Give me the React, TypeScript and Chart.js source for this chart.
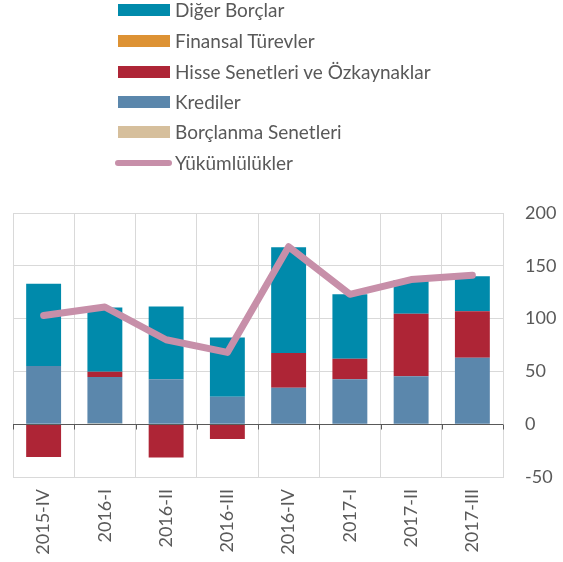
import React, { useEffect, useRef } from "react";
import { Chart, registerables } from "chart.js";

Chart.register(...registerables);

const categories = ["2015-IV", "2016-I", "2016-II", "2016-III", "2016-IV", "2017-I", "2017-II", "2017-III"];
const digerBorclar = [78, 61, 69, 56, 100, 61, 32, 33];
const finansalTurevler = [0, 0, 0, 0, 0, 0, 0, 0];
const hisseSenetleri = [-31, 5, -31.5, -14, 33, 19.5, 59, 44];
const krediler = [55, 44, 42.5, 26, 34.5, 42.5, 45.5, 63];
const borclanmaSenetleri = [0, 0.6, 0, 0, 0, 0, 0, 0];
const yukumlulukler = [103, 111, 80, 68, 168, 123, 137, 141];
const yTicks = [200, 150, 100, 50, 0, -50];

const C_DIGER = "#008aab";
const C_FIN = "#dd9234";
const C_HISSE = "#ae2536";
const C_KRED = "#5b87ac";
const C_BORC = "#d6bf9c";
const C_LINE = "#c78fa9";

const legendItems = [
  { label: "Diğer Borçlar", color: C_DIGER, line: false },
  { label: "Finansal Türevler", color: C_FIN, line: false },
  { label: "Hisse Senetleri ve Özkaynaklar", color: C_HISSE, line: false },
  { label: "Krediler", color: C_KRED, line: false },
  { label: "Borçlanma Senetleri", color: C_BORC, line: false },
  { label: "Yükümlülükler", color: C_LINE, line: true },
];

const FONT = "Lato, 'Open Sans', sans-serif";

const zeroLinePlugin = {
  id: "zeroLine",
  afterDatasetsDraw(chart: any) {
    const { ctx, scales } = chart;
    const x = scales.x;
    const y = scales.y;
    const y0 = Math.round(y.getPixelForValue(0)) + 0.5;
    ctx.save();
    ctx.strokeStyle = "#595959";
    ctx.lineWidth = 1;
    ctx.beginPath();
    ctx.moveTo(chart.chartArea.left, y0);
    ctx.lineTo(chart.chartArea.right, y0);
    const n = categories.length;
    const w = (chart.chartArea.right - chart.chartArea.left) / n;
    for (let i = 0; i <= n; i++) {
      const px = Math.round(x.getPixelForValue(0) - w / 2 + i * w) + 0.5;
      ctx.moveTo(px, y0);
      ctx.lineTo(px, y0 + 5);
    }
    ctx.stroke();
    ctx.restore();
  },
};

export default function App() {
  const ref = useRef<HTMLCanvasElement | null>(null);

  useEffect(() => {
    if (!ref.current) return;
    const barCommon = {
      type: "bar" as const,
      stack: "s",
      barPercentage: 0.57,
      categoryPercentage: 1,
      borderWidth: 0,
      order: 1,
    };
    const chart = new Chart(ref.current, {
      type: "bar",
      data: {
        labels: categories,
        datasets: [
          {
            type: "line",
            label: "Yükümlülükler",
            data: yukumlulukler,
            borderColor: C_LINE,
            backgroundColor: C_LINE,
            borderWidth: 7,
            pointRadius: 0,
            borderCapStyle: "round",
            borderJoinStyle: "round",
            tension: 0,
            order: 0,
          } as any,
          { ...barCommon, label: "Borçlanma Senetleri", data: borclanmaSenetleri, backgroundColor: C_BORC },
          { ...barCommon, label: "Krediler", data: krediler, backgroundColor: C_KRED },
          { ...barCommon, label: "Hisse Senetleri ve Özkaynaklar", data: hisseSenetleri, backgroundColor: C_HISSE },
          { ...barCommon, label: "Finansal Türevler", data: finansalTurevler, backgroundColor: C_FIN },
          { ...barCommon, label: "Diğer Borçlar", data: digerBorclar, backgroundColor: C_DIGER },
        ],
      },
      options: {
        animation: false,
        responsive: false,
        maintainAspectRatio: false,
        layout: { padding: { top: 213, left: 13, right: 0, bottom: 0 } },
        plugins: { legend: { display: false }, tooltip: { enabled: false } },
        scales: {
          x: {
            stacked: true,
            offset: true,
            grid: { color: "#d9d9d9", offset: true, drawTicks: false, lineWidth: 1 },
            border: { display: false },
            ticks: {
              color: "#595959",
              font: { family: FONT, size: 18 },
              maxRotation: 90,
              minRotation: 90,
              padding: 12,
              autoSkip: false,
            },
            afterFit: (s: any) => {
              s.height = 562 - 477;
            },
          },
          y: {
            stacked: true,
            position: "right",
            min: -50,
            max: 200,
            afterBuildTicks: (s: any) => {
              s.ticks = yTicks.map((v) => ({ value: v }));
            },
            grid: { color: "#d9d9d9", drawTicks: false, lineWidth: 1 },
            border: { display: true, color: "#d9d9d9" },
            ticks: {
              color: "#595959",
              font: { family: FONT, size: 18 },
              padding: 22,
            },
            afterFit: (s: any) => {
              s.width = 563 - 503;
            },
          },
        },
      },
      plugins: [zeroLinePlugin],
    });
    return () => chart.destroy();
  }, []);

  return (
    <div style={{ position: "fixed", left: 0, top: 0, width: 563, height: 562, background: "#fff" }}>
      <canvas ref={ref} width={563} height={562} style={{ position: "absolute", left: 0, top: 0, width: 563, height: 562 }} />
      {legendItems.map((it, i) => {
        const cy = [10, 41, 72, 102, 132, 163][i];
        return (
          <div key={it.label} style={{ position: "absolute", left: 0, top: cy - 12, height: 24, width: 563 }}>
            {it.line ? (
              <div
                style={{
                  position: "absolute",
                  left: 115,
                  top: 9,
                  width: 57,
                  height: 6,
                  borderRadius: 3,
                  background: it.color,
                }}
              />
            ) : (
              <div style={{ position: "absolute", left: 118, top: 6, width: 52, height: 12, background: it.color }} />
            )}
            <div
              style={{
                position: "absolute",
                left: 175,
                top: 0,
                lineHeight: "24px",
                fontFamily: FONT,
                fontSize: 19,
                color: "#595959",
                whiteSpace: "nowrap",
              }}
            >
              {it.label}
            </div>
          </div>
        );
      })}
    </div>
  );
}
